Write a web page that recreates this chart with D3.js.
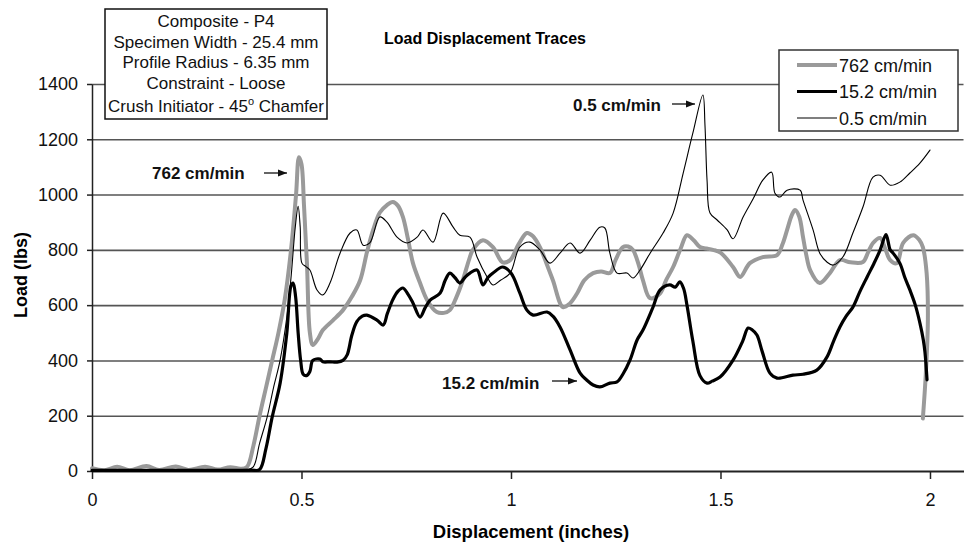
<!DOCTYPE html>
<html>
<head>
<meta charset="utf-8">
<script src="https://cdn.jsdelivr.net/npm/d3@7"></script>
<style>
    body { margin: 0; background: #fff; }
    svg { display: block; font-family: "Liberation Sans", Arial, sans-serif; }
</style>
</head>
<body>
<div id="chart"></div>
<script>
// ---- Data ----
const seriesNames = ["762 cm/min", "15.2 cm/min", "0.5 cm/min"];
const xTicks = [0, 0.5, 1, 1.5, 2];
const yTicks = [0, 200, 400, 600, 800, 1000, 1200, 1400];

// 762 cm/min (thick grey)
const disp762 = [0, 0.03, 0.06, 0.09, 0.13, 0.16, 0.20, 0.23, 0.27, 0.30, 0.33, 0.355, 0.37, 0.385, 0.40, 0.415, 0.43, 0.445, 0.46, 0.475,
    0.487, 0.494, 0.50, 0.506, 0.513, 0.52, 0.527, 0.54, 0.551, 0.575, 0.599, 0.62, 0.64, 0.656, 0.671, 0.687, 0.704, 0.718, 0.73, 0.742,
    0.754, 0.766, 0.783, 0.80, 0.823, 0.84, 0.854, 0.87, 0.885, 0.90, 0.909, 0.933, 0.957, 0.98, 0.998, 1.018, 1.038, 1.052, 1.069, 1.085,
    1.10, 1.124, 1.14, 1.158, 1.175, 1.196, 1.215, 1.236, 1.25, 1.267, 1.28, 1.291, 1.305, 1.315, 1.332, 1.356, 1.37, 1.387, 1.405, 1.42,
    1.436, 1.451, 1.467, 1.482, 1.50, 1.53, 1.547, 1.57, 1.601, 1.635, 1.648, 1.659, 1.67, 1.678, 1.688, 1.697, 1.705, 1.714, 1.737, 1.761,
    1.785, 1.81, 1.84, 1.852, 1.864, 1.881, 1.893, 1.905, 1.921, 1.936, 1.96, 1.975, 1.983, 1.992, 1.995, 1.99, 1.983];
const load762 = [10, 3, 15, 3, 18, 4, 16, 4, 15, 5, 14, 8, 15, 90, 200, 300, 400, 500, 620, 800,
    1000, 1135, 1110, 960, 752, 500, 456, 480, 510, 545, 582, 630, 690, 790, 872, 935, 962, 973, 960, 919,
    840, 752, 680, 618, 575, 572, 582, 630, 690, 765, 800, 835, 810, 755, 763, 820, 861, 850, 810, 750,
    690, 593, 605, 643, 690, 716, 722, 716, 765, 810, 812, 800, 745, 690, 625, 643, 690, 738, 805, 853,
    835, 810, 805, 800, 790, 738, 702, 752, 774, 781, 820, 872, 925, 944, 920, 846, 780, 727, 680, 716,
    763, 755, 756, 790, 825, 843, 805, 763, 752, 825, 853, 835, 810, 716, 550, 350, 190];

// 15.2 cm/min (thick black)
const disp152 = [0, 0.1, 0.2, 0.3, 0.38, 0.40, 0.415, 0.43, 0.449, 0.465, 0.475, 0.48, 0.486, 0.492, 0.498, 0.504, 0.512, 0.52, 0.527, 0.544,
    0.551, 0.568, 0.585, 0.599, 0.609, 0.62, 0.632, 0.645, 0.656, 0.68, 0.695, 0.705, 0.718, 0.73, 0.742, 0.754, 0.766, 0.783, 0.795, 0.807,
    0.831, 0.843, 0.854, 0.866, 0.878, 0.89, 0.902, 0.919, 0.933, 0.945, 0.957, 0.98, 1.0, 1.021, 1.038, 1.053, 1.086, 1.10, 1.117, 1.141,
    1.165, 1.18, 1.196, 1.212, 1.236, 1.253, 1.267, 1.284, 1.301, 1.315, 1.339, 1.356, 1.379, 1.392, 1.403, 1.412, 1.42, 1.434, 1.451, 1.468,
    1.48, 1.499, 1.53, 1.553, 1.566, 1.576, 1.587, 1.60, 1.618, 1.635, 1.673, 1.697, 1.73, 1.754, 1.77, 1.785, 1.80, 1.816, 1.833, 1.85,
    1.866, 1.881, 1.895, 1.905, 1.912, 1.928, 1.94, 1.952, 1.965, 1.976, 1.984, 1.988, 1.993];
const load152 = [2, 2, 2, 2, 3, 5, 80, 195, 318, 499, 670, 680, 630, 500, 400, 350, 345, 360, 400, 405,
    395, 395, 394, 400, 420, 490, 540, 560, 564, 546, 528, 570, 620, 650, 662, 640, 608, 557, 590, 618,
    644, 690, 716, 700, 680, 700, 716, 727, 673, 700, 716, 738, 716, 644, 582, 564, 575, 560, 521, 438,
    354, 330, 311, 304, 318, 322, 350, 401, 474, 510, 593, 655, 673, 665, 684, 660, 600, 470, 345, 318,
    325, 340, 401, 470, 517, 510, 492, 430, 354, 336, 347, 350, 365, 412, 470, 521, 560, 593, 650, 702,
    750, 799, 855, 800, 788, 752, 700, 655, 600, 535, 475, 430, 330];

// 0.5 cm/min (thin black)
const disp05 = [0, 0.1, 0.2, 0.3, 0.37, 0.385, 0.40, 0.418, 0.433, 0.449, 0.465, 0.475, 0.485, 0.492, 0.497, 0.501, 0.51, 0.52, 0.537, 0.551,
    0.568, 0.592, 0.616, 0.632, 0.647, 0.663, 0.687, 0.704, 0.728, 0.752, 0.776, 0.79, 0.814, 0.838, 0.862, 0.878, 0.902, 0.919, 0.943, 0.957,
    0.975, 0.998, 1.021, 1.045, 1.069, 1.093, 1.117, 1.141, 1.165, 1.189, 1.212, 1.224, 1.236, 1.253, 1.277, 1.291, 1.308, 1.332, 1.363, 1.387,
    1.411, 1.434, 1.458, 1.463, 1.468, 1.475, 1.492, 1.516, 1.53, 1.554, 1.578, 1.601, 1.622, 1.63, 1.642, 1.659, 1.69, 1.697, 1.721, 1.737,
    1.754, 1.769, 1.792, 1.816, 1.84, 1.864, 1.881, 1.905, 1.928, 1.952, 1.976, 2.0];
const load05 = [3, 3, 3, 3, 4, 15, 100, 195, 300, 401, 557, 700, 880, 958, 880, 752, 740, 727, 655, 637,
    680, 788, 861, 872, 817, 825, 919, 900, 846, 825, 846, 872, 828, 933, 882, 853, 846, 774, 702, 673,
    690, 716, 810, 828, 800, 752, 788, 825, 788, 835, 882, 879, 788, 716, 716, 698, 727, 788, 861, 933,
    1078, 1222, 1360, 1250, 1050, 933, 908, 872, 840, 919, 985, 1052, 1081, 1005, 991, 1016, 1016, 980, 872, 788,
    756, 745, 774, 861, 955, 1063, 1070, 1034, 1045, 1078, 1114, 1161];

const infoLines = ["Composite - P4", "Specimen Width - 25.4 mm", "Profile Radius - 6.35 mm", "Constraint - Loose"];

// ---- Setup ----
const width = 964, height = 545;
const svg = d3.select("#chart").append("svg")
    .attr("width", width)
    .attr("height", height);

const x = d3.scaleLinear().domain([0, 2.08]).range([92, 963.5]);
const y = d3.scaleLinear().domain([0, 1400]).range([471, 84]);

// series styles
const series = [
    { name: seriesNames[0], xs: disp762, ys: load762, color: "#9a9a9a", w: 4 },
    { name: seriesNames[1], xs: disp152, ys: load152, color: "#000", w: 3.2 },
    { name: seriesNames[2], xs: disp05, ys: load05, color: "#000", w: 1.1 }
];

// grid lines
svg.append("g")
    .attr("transform", `translate(${x(0)},0)`)
    .call(d3.axisLeft(y).tickValues(yTicks.slice(1)).tickSize(-(x.range()[1] - x(0))).tickFormat(""))
    .call(g => g.select(".domain").remove())
    .selectAll("line")
    .attr("stroke", "#555")
    .attr("stroke-width", 1.6);

// y axis
const yAxis = svg.append("g")
    .attr("transform", `translate(${x(0)},0)`)
    .call(d3.axisLeft(y).tickValues(yTicks).tickSize(5).tickPadding(9).tickSizeOuter(0).tickFormat(d => String(d)));
yAxis.select(".domain").attr("stroke", "#222").attr("stroke-width", 1.5);
yAxis.selectAll("line").attr("stroke", "#222").attr("stroke-width", 1.5);
yAxis.selectAll("text").style("font-size", "18px").attr("fill", "#111");

// x axis
const xAxis = svg.append("g")
    .attr("transform", `translate(0,${y(0)})`)
    .call(d3.axisBottom(x).tickValues(xTicks).tickSize(8).tickPadding(14).tickSizeOuter(0).tickFormat(d => String(d)));
xAxis.select(".domain").attr("stroke", "#222").attr("stroke-width", 2);
xAxis.selectAll("line").attr("stroke", "#222").attr("stroke-width", 1.5);
xAxis.selectAll("text").style("font-size", "18px").attr("fill", "#111");

// lines
const line = d3.line().x(d => x(d[0])).y(d => y(d[1])).curve(d3.curveCatmullRom.alpha(0.5));
series.forEach(s => {
    svg.append("path")
        .datum(s.xs.map((v, i) => [v, s.ys[i]]))
        .attr("fill", "none")
        .attr("stroke", s.color)
        .attr("stroke-width", s.w)
        .attr("stroke-linejoin", "round")
        .attr("stroke-linecap", "round")
        .attr("d", line);
});

// titles
svg.append("text").attr("x", 485).attr("y", 44).attr("text-anchor", "middle")
    .style("font-size", "16px").style("font-weight", "bold").text("Load Displacement Traces");
svg.append("text").attr("x", 531).attr("y", 538).attr("text-anchor", "middle")
    .style("font-size", "18.5px").style("font-weight", "bold").text("Displacement (inches)");
svg.append("text").attr("transform", "translate(27,275) rotate(-90)").attr("text-anchor", "middle")
    .style("font-size", "18px").style("font-weight", "bold").text("Load (lbs)");

// info box
const info = svg.append("g");
info.append("rect").attr("x", 105).attr("y", 9).attr("width", 222).attr("height", 110)
    .attr("fill", "#fff").attr("stroke", "#111").attr("stroke-width", 1.5);
infoLines.forEach((t, i) => {
    info.append("text").attr("x", 216).attr("y", 27 + i * 20.7).attr("text-anchor", "middle")
        .style("font-size", "17px").attr("fill", "#111").text(t);
});
const last = info.append("text").attr("x", 216).attr("y", 112).attr("text-anchor", "middle")
    .style("font-size", "17px").attr("fill", "#111");
last.append("tspan").text("Crush Initiator - 45");
last.append("tspan").attr("dy", -7).style("font-size", "11px").text("o");
last.append("tspan").attr("dy", 7).text(" Chamfer");

// legend
const legend = svg.append("g");
legend.append("rect").attr("x", 779).attr("y", 50).attr("width", 179).attr("height", 81)
    .attr("fill", "#fff").attr("stroke", "#333").attr("stroke-width", 1.5);
series.forEach((s, i) => {
    const ly = 65 + i * 26.5;
    legend.append("line").attr("x1", 797).attr("x2", 837).attr("y1", ly).attr("y2", ly)
        .attr("stroke", s.color).attr("stroke-width", s.w);
    legend.append("text").attr("x", 839).attr("y", ly + 6.5)
        .style("font-size", "18px").attr("fill", "#111").text(s.name);
});

// annotations with arrows
svg.append("defs").append("marker")
    .attr("id", "arrow").attr("viewBox", "0 0 10 10").attr("refX", 10).attr("refY", 5)
    .attr("markerWidth", 7).attr("markerHeight", 7).attr("orient", "auto")
    .append("path").attr("d", "M0,1 L10,5 L0,9 Z").attr("fill", "#111");

const notes = [
    { text: seriesNames[0], tx: 152, ty: 179, x1: 264, x2: 287, ay: 173 },
    { text: seriesNames[2], tx: 573, ty: 111, x1: 672, x2: 695, ay: 104 },
    { text: seriesNames[1], tx: 442, ty: 389, x1: 552, x2: 577, ay: 381 }
];
notes.forEach(n => {
    svg.append("text").attr("x", n.tx).attr("y", n.ty)
        .style("font-size", "17px").style("font-weight", "bold").attr("fill", "#111").text(n.text);
    svg.append("line").attr("x1", n.x1).attr("x2", n.x2).attr("y1", n.ay).attr("y2", n.ay)
        .attr("stroke", "#111").attr("stroke-width", 1.3).attr("marker-end", "url(#arrow)");
});
</script>
</body>
</html>
